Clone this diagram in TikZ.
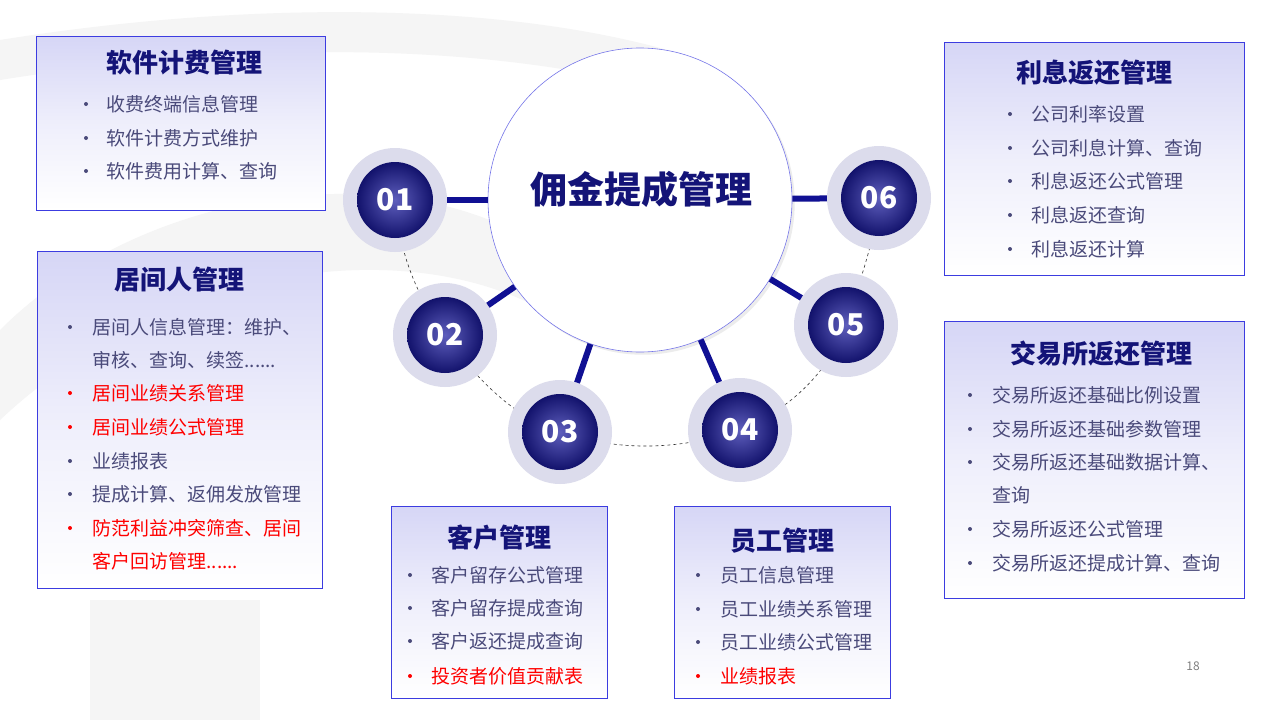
\documentclass[tikz,border=0pt]{standalone}
\usepackage{fontspec}
\setmainfont{Noto Sans CJK SC}
\usetikzlibrary{shadows}
\definecolor{navy}{HTML}{141478}
\definecolor{itemc}{HTML}{4A4A7A}
\definecolor{bord}{HTML}{3C3CE0}
\definecolor{lav}{HTML}{D6D6F6}
\definecolor{ringc}{HTML}{DCDCEC}
\definecolor{numb}{HTML}{1A1AA0}
\tikzset{
  boxst/.style={draw=bord,line width=0.8pt,top color=lav,bottom color=white,middle color=white!60!lav},
  titlest/.style={font=\fontsize{26}{30}\selectfont\bfseries,text=navy,anchor=center},
  itemst/.style={font=\fontsize{19}{22}\selectfont,text=itemc,anchor=west},
  reditem/.style={font=\fontsize{19}{22}\selectfont,text=red,anchor=west},
  dotst/.style={fill=itemc,circle,inner sep=0pt,minimum size=4pt},
  reddot/.style={fill=red,circle,inner sep=0pt,minimum size=4pt},
  ringst/.style={circle,fill=ringc,minimum size=104pt,inner sep=0pt},
  numst/.style={circle,inner color=numb!70!white,outer color=navy!90!black,minimum size=76pt,inner sep=0pt,text=white,font=\fontsize{30}{30}\selectfont\bfseries},
  linkst/.style={line width=6pt,draw=navy!80!blue},
}
\newcommand{\itm}[4]{\node[dotst] at (#1,#3) {}; \node[itemst] at (#2,#3) {#4};}
\newcommand{\ritm}[4]{\node[reddot] at (#1,#3) {}; \node[reditem] at (#2,#3) {#4};}
\begin{document}
\begin{tikzpicture}[x=1pt,y=-1pt]
\useasboundingbox (0,0) rectangle (1280,720);
\fill[white] (0,0) rectangle (1280,720);
% faint background shapes
\begin{scope}
\clip (0,0) rectangle (1280,720);
\fill[black!4] (0,330) .. controls (150,180) and (420,150) .. (560,260) -- (560,320) .. controls (420,230) and (170,260) .. (0,420) -- cycle;
\fill[black!4] (90,600) rectangle (260,720);
\fill[black!4] (0,40) .. controls (250,0) and (520,0) .. (700,60) -- (700,100) .. controls (500,40) and (250,40) .. (0,80) -- cycle;
\end{scope}
% dashed arc
\draw[dashed,black!80,line width=0.6pt] (395,200) .. controls (400,260) and (420,300) .. (445,335) .. controls (480,385) and (520,420) .. (560,432) .. controls (620,452) and (680,450) .. (740,430) .. controls (790,410) and (830,370) .. (846,325) .. controls (860,280) and (875,240) .. (879,198);
% central circle
\node[circle,draw=bord!70,line width=0.6pt,fill=white,minimum size=304pt,drop shadow={opacity=0.15}] (c) at (640,200) {};
\node[font=\fontsize{37}{40}\selectfont\bfseries,text=navy] (ct) at (641,189) {佣金提成管理};
% numbered circles
\foreach \n/\x/\y in {01/395/200,02/445/335,03/560/432,04/740/430,05/846/325,06/879/198}{
  \node[ringst] (r\n) at (\x,\y) {};
}
\draw[linkst] (r01) -- (c);
\draw[linkst] (r02) -- (c);
\draw[linkst] (r03) -- (c);
\draw[linkst] (r04) -- (c);
\draw[linkst] (r05) -- (c);
\draw[linkst] (r06) -- (c);
\foreach \n/\x/\y in {01/395/200,02/445/335,03/560/432,04/740/430,05/846/325,06/879/198}{
  \node[numst] (n\n) at (\x,\y) {\n};
}
% box 1
\node[boxst,minimum width=289pt,minimum height=174pt,anchor=north west] (b1) at (36,36) {};
\node[titlest] (t1) at (184,63) {软件计费管理};
\itm{86}{103}{104}{收费终端信息管理}
\itm{86}{103}{138}{软件计费方式维护}
\itm{86}{103}{171}{软件费用计算、查询}
% box 2
\node[boxst,minimum width=285pt,minimum height=337pt,anchor=north west] (b2) at (37,251) {};
\node[titlest] (t2) at (179,280) {居间人管理};
\itm{70}{89}{327}{居间人信息管理：维护、}
\node[itemst] at (89,360) {审核、查询、续签......};
\ritm{70}{89}{393}{居间业绩关系管理}
\ritm{70}{89}{427}{居间业绩公式管理}
\itm{70}{89}{461}{业绩报表}
\itm{70}{89}{494}{提成计算、返佣发放管理}
\ritm{70}{89}{528}{防范利益冲突筛查、居间}
\node[reditem] at (89,561) {客户回访管理......};
% box 3
\node[boxst,minimum width=216pt,minimum height=192pt,anchor=north west] (b3) at (391,506) {};
\node[titlest] (t3) at (499,538) {客户管理};
\itm{410}{428}{575}{客户留存公式管理}
\itm{410}{428}{608}{客户留存提成查询}
\itm{410}{428}{641}{客户返还提成查询}
\ritm{410}{428}{676}{投资者价值贡献表}
% box 4
\node[boxst,minimum width=216pt,minimum height=192pt,anchor=north west] (b4) at (674,506) {};
\node[titlest] (t4) at (782,541) {员工管理};
\itm{698}{717}{575}{员工信息管理}
\itm{698}{717}{609}{员工业绩关系管理}
\itm{698}{717}{642}{员工业绩公式管理}
\ritm{698}{717}{676}{业绩报表}
% box 5
\node[boxst,minimum width=300pt,minimum height=233pt,anchor=north west] (b5) at (944,42) {};
\node[titlest] (t5) at (1094,73) {利息返还管理};
\itm{1010}{1028}{114}{公司利率设置}
\itm{1010}{1028}{148}{公司利息计算、查询}
\itm{1010}{1028}{181}{利息返还公式管理}
\itm{1010}{1028}{215}{利息返还查询}
\itm{1010}{1028}{249}{利息返还计算}
% box 6
\node[boxst,minimum width=300pt,minimum height=277pt,anchor=north west] (b6) at (944,321) {};
\node[titlest] (t6) at (1101,354) {交易所返还管理};
\itm{970}{989}{395}{交易所返还基础比例设置}
\itm{970}{989}{429}{交易所返还基础参数管理}
\itm{970}{989}{462}{交易所返还基础数据计算、}
\node[itemst] at (989,495) {查询};
\itm{970}{989}{529}{交易所返还公式管理}
\itm{970}{989}{563}{交易所返还提成计算、查询}
\node[font=\fontsize{12}{12}\selectfont,text=black!50] (pg) at (1193,666) {18};
\end{tikzpicture}
\end{document}
